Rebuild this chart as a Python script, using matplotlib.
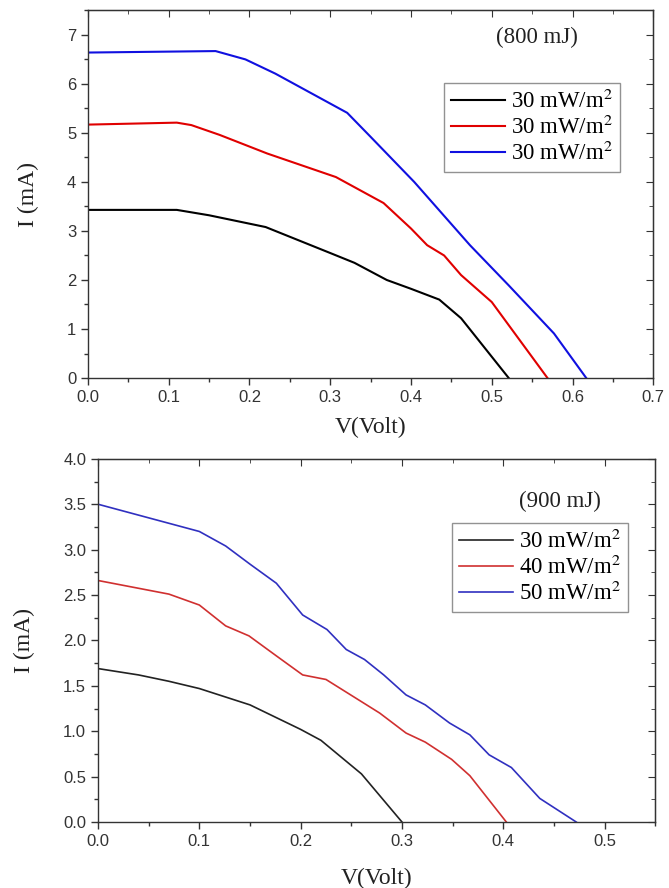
import matplotlib
matplotlib.use("Agg")
import matplotlib.pyplot as plt
from matplotlib.ticker import MultipleLocator

# ---- top panel (800 mJ) ----
v_800_black = [0.0, 0.11, 0.15, 0.22, 0.30, 0.33, 0.37, 0.40, 0.435, 0.462, 0.521]
i_800_black = [3.43, 3.43, 3.32, 3.08, 2.55, 2.35, 2.0, 1.82, 1.60, 1.22, 0.0]
v_800_red = [0.0, 0.11, 0.128, 0.163, 0.222, 0.307, 0.366, 0.40, 0.42, 0.441, 0.462, 0.50, 0.569]
i_800_red = [5.17, 5.21, 5.16, 4.96, 4.58, 4.10, 3.57, 3.05, 2.71, 2.50, 2.10, 1.55, 0.0]
v_800_blue = [0.0, 0.158, 0.195, 0.232, 0.321, 0.35, 0.404, 0.473, 0.521, 0.577, 0.617]
i_800_blue = [6.64, 6.67, 6.50, 6.21, 5.41, 4.92, 4.00, 2.71, 1.89, 0.91, 0.0]
labels_800 = ["30 mW/m$^2$", "30 mW/m$^2$", "30 mW/m$^2$"]

# ---- bottom panel (900 mJ) ----
v_900_black = [0.0, 0.04, 0.07, 0.10, 0.15, 0.20, 0.22, 0.26, 0.30]
i_900_black = [1.69, 1.62, 1.55, 1.47, 1.29, 1.02, 0.90, 0.53, 0.0]
v_900_red = [0.0, 0.07, 0.10, 0.126, 0.149, 0.176, 0.202, 0.225, 0.278, 0.304,
             0.323, 0.349, 0.367, 0.403]
i_900_red = [2.66, 2.51, 2.39, 2.16, 2.05, 1.83, 1.62, 1.57, 1.20, 0.98,
             0.88, 0.69, 0.51, 0.0]
v_900_blue = [0.0, 0.10, 0.126, 0.15, 0.176, 0.202, 0.226, 0.245, 0.263, 0.282,
              0.304, 0.323, 0.347, 0.367, 0.386, 0.408, 0.436, 0.472]
i_900_blue = [3.50, 3.20, 3.04, 2.84, 2.63, 2.28, 2.12, 1.90, 1.79, 1.62,
              1.40, 1.29, 1.09, 0.96, 0.74, 0.60, 0.26, 0.0]
labels_900 = ["30 mW/m$^2$", "40 mW/m$^2$", "50 mW/m$^2$"]

plt.rcParams["mathtext.fontset"] = "stix"
SERIF = "Liberation Serif"
SANS = "Liberation Sans"
LABEL_SIZE = 17
LEGEND_SIZE = 16.5


def style_axes(ax, xmaj, xmin, ymaj, ymin):
    """Origin-like frame: ticks out on left/bottom, in on top/right."""
    ax.xaxis.set_major_locator(MultipleLocator(xmaj))
    ax.xaxis.set_minor_locator(MultipleLocator(xmin))
    ax.yaxis.set_major_locator(MultipleLocator(ymaj))
    ax.yaxis.set_minor_locator(MultipleLocator(ymin))
    ax.tick_params(which="both", direction="out", color="#333333",
                   labelcolor="#333333", labelsize=12, width=1.0)
    ax.tick_params(which="major", length=5)
    ax.tick_params(which="minor", length=3)
    for lab in ax.get_xticklabels() + ax.get_yticklabels():
        lab.set_fontfamily(SANS)
    for sp in ax.spines.values():
        sp.set_color("#333333")
        sp.set_linewidth(1.0)

    top = ax.secondary_xaxis("top")
    top.xaxis.set_major_locator(MultipleLocator(xmaj))
    top.xaxis.set_minor_locator(MultipleLocator(xmin))
    top.tick_params(which="both", direction="in", labeltop=False, color="#333333")
    top.tick_params(which="major", length=5)
    top.tick_params(which="minor", length=3)
    right = ax.secondary_yaxis("right")
    right.yaxis.set_major_locator(MultipleLocator(ymaj))
    right.yaxis.set_minor_locator(MultipleLocator(ymin))
    right.tick_params(which="both", direction="in", labelright=False, color="#333333")
    right.tick_params(which="major", length=5)
    right.tick_params(which="minor", length=3)


def add_legend(ax, anchor):
    leg = ax.legend(loc="upper left", bbox_to_anchor=anchor,
                    prop={"family": SERIF, "size": LEGEND_SIZE}, frameon=True,
                    fancybox=False, handlelength=2.35, handletextpad=0.25,
                    borderpad=0.3, labelspacing=0.12, borderaxespad=0)
    leg.get_frame().set_edgecolor("#777777")
    leg.get_frame().set_linewidth(1.0)
    return leg


fig = plt.figure(figsize=(6.69, 8.88), dpi=100)

# top panel
ax1 = fig.add_axes([0.1315, 0.5743, 0.845, 0.414])
ax1.plot(v_800_black, i_800_black, color="#000000", lw=1.5, label=labels_800[0])
ax1.plot(v_800_red, i_800_red, color="#e00000", lw=1.5, label=labels_800[1])
ax1.plot(v_800_blue, i_800_blue, color="#1010e0", lw=1.5, label=labels_800[2])
ax1.set_xlim(0, 0.7)
ax1.set_ylim(0, 7.5)
style_axes(ax1, 0.1, 0.05, 1, 0.5)
ax1.set_xlabel("V(Volt)", fontfamily=SERIF, fontsize=LABEL_SIZE,
               color="#222222", labelpad=9)
ax1.set_ylabel("I (mA)", fontfamily=SERIF, fontsize=LABEL_SIZE,
               color="#222222", labelpad=20)
ax1.text(0.556, 6.95, "(800 mJ)", fontfamily=SERIF, fontsize=LEGEND_SIZE,
         ha="center", va="center", color="#222222")
add_legend(ax1, (0.630, 0.803))

# bottom panel
ax2 = fig.add_axes([0.1465, 0.0743, 0.833, 0.409])
ax2.plot(v_900_black, i_900_black, color="#222222", lw=1.2, label=labels_900[0])
ax2.plot(v_900_red, i_900_red, color="#d03030", lw=1.2, label=labels_900[1])
ax2.plot(v_900_blue, i_900_blue, color="#3030c0", lw=1.2, label=labels_900[2])
ax2.set_xlim(0, 0.55)
ax2.set_ylim(0, 4.0)
style_axes(ax2, 0.1, 0.05, 0.5, 0.25)
ax2.set_xlabel("V(Volt)", fontfamily=SERIF, fontsize=LABEL_SIZE,
               color="#222222", labelpad=14)
ax2.set_ylabel("I (mA)", fontfamily=SERIF, fontsize=LABEL_SIZE,
               color="#222222", labelpad=20)
ax2.text(0.456, 3.53, "(900 mJ)", fontfamily=SERIF, fontsize=LEGEND_SIZE,
         ha="center", va="center", color="#222222")
add_legend(ax2, (0.636, 0.824))

fig.savefig("out.png", dpi=100)
